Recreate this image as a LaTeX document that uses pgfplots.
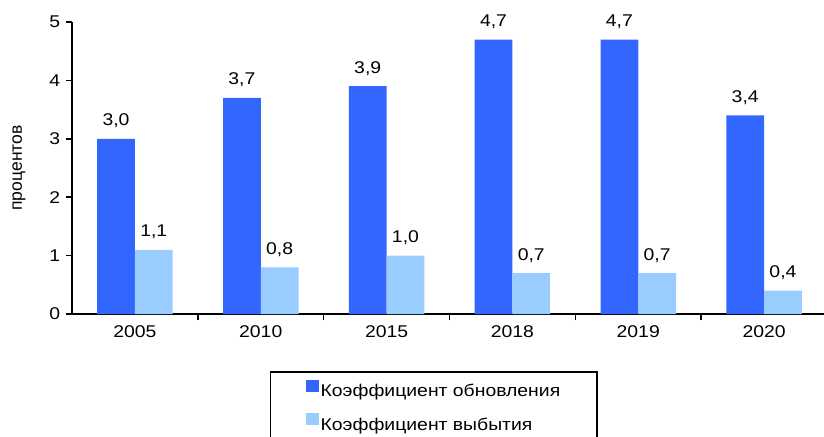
\documentclass[border=0pt]{standalone}
\usepackage{pgfplots}
\pgfplotsset{compat=1.18}
\usepackage{fontspec}
\setmainfont[FakeStretch=1.14]{Liberation Sans}
\newfontfamily\vfont{Liberation Sans}
\definecolor{cA}{HTML}{3366FF}
\definecolor{cB}{HTML}{99CCFF}
\begin{document}
\fontsize{17bp}{20bp}\selectfont
\begin{tikzpicture}
\begin{axis}[
  scale only axis, width=755bp, height=292bp,
  xmin=-0.5, xmax=5.5, ymin=0, ymax=5,
  axis x line*=bottom, axis y line*=left,
  axis line style={line width=1.6bp, black},
  xtick={0,1,2,3,4,5},
  xticklabels={2005,2010,2015,2018,2019,2020},
  major x tick style={draw=none},
  minor xtick={0.5,1.5,2.5,3.5,4.5},
  minor x tick style={line width=1.6bp, black},
  minor tick length=6bp,
  ytick={0,1,2,3,4,5},
  major tick length=6bp,
  ytick style={line width=1.6bp, black},
  tick align=outside,
  /pgf/number format/assume math mode=true,
  tick label style={font=\fontsize{17bp}{20bp}\selectfont},
  ylabel={процентов},
  every axis y label/.style={at={(rel axis cs:0,0.5)}, xshift=-53bp, rotate=90, anchor=center,
    font=\vfont\fontsize{17.5bp}{20bp}\selectfont},
  ybar, bar width=0.3,
  nodes near coords={\pgfmathprintnumber[fixed,fixed zerofill,precision=1,use comma]{\pgfplotspointmeta}},
  every node near coord/.append style={font=\fontsize{17bp}{20bp}\selectfont, yshift=5bp, black},
  legend style={at={(0.262,-0.195)}, anchor=north west, draw=black, line width=1.6bp,
    font=\fontsize{17bp}{20bp}\selectfont, row sep=12bp, inner xsep=35bp, inner ysep=8bp,
    legend cell align=left},
  legend image code/.code={\fill[#1, draw=none] (0bp,0bp) rectangle (13bp,12bp);},
]
\addplot[fill=cA, draw=none, bar shift=-0.15] coordinates {(0,3.0) (1,3.7) (2,3.9) (3,4.7) (4,4.7) (5,3.4)};
\addplot[fill=cB, draw=none, bar shift=0.15] coordinates {(0,1.1) (1,0.8) (2,1.0) (3,0.7) (4,0.7) (5,0.4)};
\legend{Коэффициент обновления, Коэффициент выбытия}
\coordinate (O) at (rel axis cs:0,0);
\end{axis}
\pgfresetboundingbox
\useasboundingbox (O) ++(-72bp,-123bp) rectangle ++(824bp,437bp);
\end{tikzpicture}
\end{document}
